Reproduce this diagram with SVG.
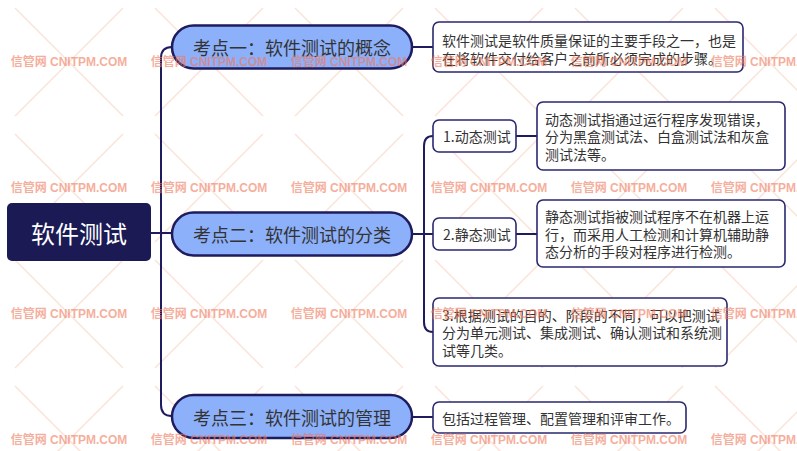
<svg xmlns="http://www.w3.org/2000/svg" width="797" height="451" viewBox="0 0 797 451">
<defs>
<style>
.bg{fill:#ffffff}
.wx{stroke:#fbe3da;stroke-width:1.5;fill:none}
.wm{font-family:"Liberation Sans","Noto Sans CJK SC",sans-serif;font-weight:bold;font-size:12px;fill:#f07a5c;opacity:0.6}
.conn{fill:none;stroke:#1e1b5e;stroke-width:2}
.root{fill:#1b1a55}
.rootT{font-family:"Noto Sans CJK SC",sans-serif;font-size:24px;fill:#ffffff;text-anchor:middle;dominant-baseline:central}
.pill{fill:#8db0fa;stroke:#1e1b5e;stroke-width:2.5}
.pillT{font-family:"Noto Sans CJK SC",sans-serif;font-size:18px;fill:#333333;text-anchor:middle;dominant-baseline:central}
.leaf{fill:#ffffff;stroke:#2a2870;stroke-width:1.6}
.leafT{font-family:"Noto Sans CJK SC",sans-serif;font-size:14px;fill:#333333;dominant-baseline:central}
</style>
<g id="wmx">
<path class="wx" d="M-54,-54 L54,54 M54,-54 L-54,54"/>
</g>
<g id="wmt">
<text class="wm" x="0" y="0" text-anchor="middle" dominant-baseline="central">信管网 CNITPM.COM</text>
</g>
</defs>
<rect class="bg" x="0" y="0" width="797" height="451"/>
<g id="watermark-lines">
<use href="#wmx" x="69" y="62"/><use href="#wmx" x="209" y="62"/><use href="#wmx" x="349" y="62"/><use href="#wmx" x="489" y="62"/><use href="#wmx" x="629" y="62"/><use href="#wmx" x="769" y="62"/>
<use href="#wmx" x="69" y="188"/><use href="#wmx" x="209" y="188"/><use href="#wmx" x="349" y="188"/><use href="#wmx" x="489" y="188"/><use href="#wmx" x="629" y="188"/><use href="#wmx" x="769" y="188"/>
<use href="#wmx" x="69" y="314"/><use href="#wmx" x="209" y="314"/><use href="#wmx" x="349" y="314"/><use href="#wmx" x="489" y="314"/><use href="#wmx" x="629" y="314"/><use href="#wmx" x="769" y="314"/>
<use href="#wmx" x="69" y="440"/><use href="#wmx" x="209" y="440"/><use href="#wmx" x="349" y="440"/><use href="#wmx" x="489" y="440"/><use href="#wmx" x="629" y="440"/><use href="#wmx" x="769" y="440"/>
</g>
<g id="connectors">
<path class="conn" d="M151,233 L172,233"/>
<path class="conn" d="M172,47 Q161,47 161,58 L161,405 Q161,416 172,416"/>
<path class="conn" d="M412,47 L433,47"/>
<path class="conn" d="M412,234 L433,234"/>
<path class="conn" d="M433,136 Q424,136 424,146 L424,322 Q424,332 433,332"/>
<path class="conn" d="M516,136 L537,136"/>
<path class="conn" d="M516,234 L537,234"/>
<path class="conn" d="M412,417 L433,417"/>
</g>
<g id="root">
<rect class="root" x="7" y="203" width="144" height="58" rx="5"/>
<text class="rootT" x="79" y="232">软件测试</text>
</g>
<g id="topic1">
<rect class="pill" x="172" y="25.5" width="240" height="43" rx="21.5"/>
<text class="pillT" x="292" y="47">考点一：软件测试的概念</text>
</g>
<g id="topic2">
<rect class="pill" x="172" y="212.5" width="240" height="43" rx="21.5"/>
<text class="pillT" x="292" y="234">考点二：软件测试的分类</text>
</g>
<g id="topic3">
<rect class="pill" x="172" y="395" width="240" height="43" rx="21.5"/>
<text class="pillT" x="292" y="416.5">考点三：软件测试的管理</text>
</g>
<g id="t1-desc">
<rect class="leaf" x="433" y="22" width="310" height="50" rx="6"/>
<text class="leafT" x="442" y="40">软件测试是软件质量保证的主要手段之一，也是</text>
<text class="leafT" x="442" y="58">在将软件交付给客户之前所必须完成的步骤。</text>
</g>
<g id="dynamic">
<rect class="leaf" x="433" y="120" width="83" height="32" rx="6"/>
<text class="leafT" x="443" y="136">1.动态测试</text>
</g>
<g id="dynamic-desc">
<rect class="leaf" x="537" y="102" width="248" height="68" rx="6"/>
<text class="leafT" x="545" y="118.5">动态测试指通过运行程序发现错误，</text>
<text class="leafT" x="545" y="136">分为黑盒测试法、白盒测试法和灰盒</text>
<text class="leafT" x="545" y="153.5">测试法等。</text>
</g>
<g id="static">
<rect class="leaf" x="433" y="218" width="83" height="32" rx="6"/>
<text class="leafT" x="443" y="234">2.静态测试</text>
</g>
<g id="static-desc">
<rect class="leaf" x="537" y="200" width="248" height="67" rx="6"/>
<text class="leafT" x="545" y="216">静态测试指被测试程序不在机器上运</text>
<text class="leafT" x="545" y="233.5">行，而采用人工检测和计算机辅助静</text>
<text class="leafT" x="545" y="251">态分析的手段对程序进行检测。</text>
</g>
<g id="stages">
<rect class="leaf" x="433" y="298" width="294" height="68" rx="6"/>
<text class="leafT" x="442" y="314.5">3.根据测试的目的、阶段的不同，可以把测试</text>
<text class="leafT" x="442" y="332">分为单元测试、集成测试、确认测试和系统测</text>
<text class="leafT" x="442" y="349.5">试等几类。</text>
</g>
<g id="t3-desc">
<rect class="leaf" x="433" y="402" width="253" height="31" rx="6"/>
<text class="leafT" x="442" y="417.5">包括过程管理、配置管理和评审工作。</text>
</g>
<g id="watermark-text">
<use href="#wmt" x="69" y="62"/><use href="#wmt" x="209" y="62"/><use href="#wmt" x="349" y="62"/><use href="#wmt" x="489" y="62"/><use href="#wmt" x="629" y="62"/><use href="#wmt" x="769" y="62"/>
<use href="#wmt" x="69" y="188"/><use href="#wmt" x="209" y="188"/><use href="#wmt" x="349" y="188"/><use href="#wmt" x="489" y="188"/><use href="#wmt" x="629" y="188"/><use href="#wmt" x="769" y="188"/>
<use href="#wmt" x="69" y="314"/><use href="#wmt" x="209" y="314"/><use href="#wmt" x="349" y="314"/><use href="#wmt" x="489" y="314"/><use href="#wmt" x="629" y="314"/><use href="#wmt" x="769" y="314"/>
<use href="#wmt" x="69" y="440"/><use href="#wmt" x="209" y="440"/><use href="#wmt" x="349" y="440"/><use href="#wmt" x="489" y="440"/><use href="#wmt" x="629" y="440"/><use href="#wmt" x="769" y="440"/>
</g>
</svg>
